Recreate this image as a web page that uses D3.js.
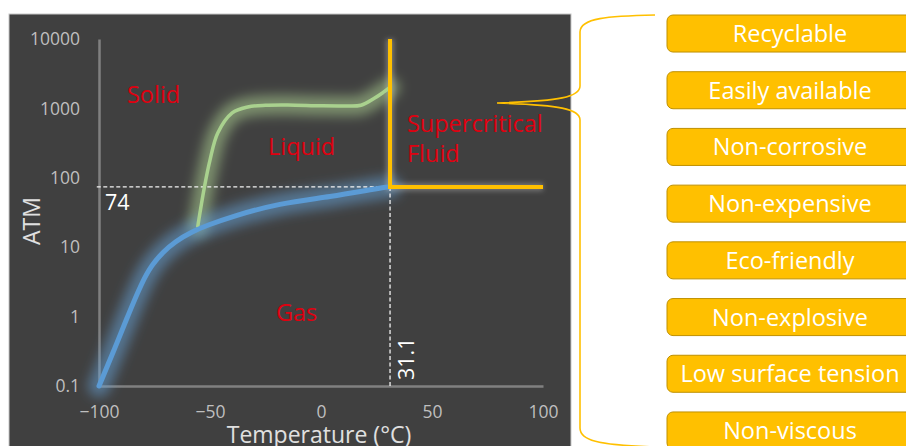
<!DOCTYPE html>
<html><head><meta charset="utf-8">
<script src="https://cdn.jsdelivr.net/npm/d3@7"></script>
<style>body{margin:0;background:#fff;overflow:hidden} svg{display:block;font-family:"Open Sans",sans-serif;}</style>
</head><body><svg id="c" width="906" height="446"></svg>
<script>
// ---- data ----
const xTicks = [-100, -50, 0, 50, 100];
const yTicks = [0.1, 1, 10, 100, 1000, 10000];
const yTickLabels = ["0.1", "1", "10", "100", "1000", "10000"];
// vapour pressure curve (T °C, P atm)
const vaporT = [-100, -92.8, -86.9, -80.6, -76.3, -71, -65.8, -58.2, -50.8, -41, -18.5, 4, 26.6, 31.1];
const vaporP = [0.1, 0.353, 1.05, 3.15, 5.54, 8.61, 12.0, 16.7, 20.9, 27.2, 43.3, 52.9, 71.3, 74];
// melting curve
const meltT = [-55.5, -52.5, -50, -46.5, -40, -33, -25, -15, 0, 10, 18, 24, 28, 31];
const meltP = [20, 74, 180, 442, 860, 1047, 1110, 1120, 1090, 1085, 1110, 1400, 1700, 2000];
const critical = {t: 31.1, p: 74};
const regionText = ["Solid", "Liquid", "Supercritical", "Fluid", "Gas"];
const regionT = [-87.4, -23.9, 38.7, 38.7, -20.3];
const regionP = [1197, 213, 457, 170, 0.865];
const properties = ["Recyclable", "Easily available", "Non-corrosive", "Non-expensive",
  "Eco-friendly", "Non-explosive", "Low surface tension", "Non-viscous"];

const svg = d3.select("#c");
const defs = svg.append("defs");
defs.append("filter").attr("id","glow").attr("x","-50%").attr("y","-50%").attr("width","200%").attr("height","200%")
  .append("feGaussianBlur").attr("stdDeviation", 6);
defs.append("filter").attr("id","glow2").attr("x","-50%").attr("y","-50%").attr("width","200%").attr("height","200%")
  .append("feGaussianBlur").attr("stdDeviation", 2.5);

// panel
svg.append("rect").attr("x", 9).attr("y", 14).attr("width", 562).attr("height", 440)
  .attr("fill", "#404040").attr("stroke", "#c8c8c8").attr("stroke-width", 1);

const x = d3.scaleLinear().domain([-100, 100]).range([99, 543]);
const y = d3.scaleLog().domain([0.1, 10000]).range([386, 39]);

// axes
const gx = svg.append("g").attr("transform", `translate(0,${y(0.1)})`)
  .call(d3.axisBottom(x).tickValues(xTicks).tickSize(0).tickPadding(20).tickFormat(d3.format("d")));
const gy = svg.append("g").attr("transform", `translate(${x(-100)},0)`)
  .call(d3.axisLeft(y).tickValues(yTicks).tickSize(0).tickPadding(19).tickFormat((d, i) => yTickLabels[i]));
[gx, gy].forEach(g => {
  g.select(".domain").attr("stroke", "#808080").attr("stroke-width", 2.5);
  g.selectAll("text").attr("fill", "#bfbfbf").attr("font-size", 17.5).attr("font-family", "Open Sans");
});

svg.append("text").attr("x", 319).attr("y", 443).attr("text-anchor", "middle")
  .attr("fill", "#e0e0e0").attr("font-size", 23).text("Temperature (°C)");
svg.append("text").attr("transform", "translate(40,221) rotate(-90)").attr("text-anchor", "middle")
  .attr("fill", "#e0e0e0").attr("font-size", 23).text("ATM");

const vapor = vaporT.map((t, i) => [t, vaporP[i]]);
const melt = meltT.map((t, i) => [t, meltP[i]]);
const vline = d3.line().x(d => x(d[0])).y(d => y(d[1])).curve(d3.curveBasis);
const line = d3.line().x(d => x(d[0])).y(d => y(d[1])).curve(d3.curveCatmullRom.alpha(0.5));
const yellow = [[critical.t, 10000], [critical.t, critical.p], [100, critical.p]];
const straight = d3.line().x(d => x(d[0])).y(d => y(d[1]));

// glows
svg.append("path").attr("d", line(melt)).attr("fill", "none").attr("stroke", "#b5dc98")
  .attr("stroke-width", 20).attr("stroke-opacity", 0.5).attr("stroke-linecap", "round").attr("filter", "url(#glow)");
svg.append("path").attr("d", vline(vapor)).attr("fill", "none").attr("stroke", "#6aa8e0")
  .attr("stroke-width", 22).attr("stroke-opacity", 0.5).attr("stroke-linecap", "round").attr("filter", "url(#glow)");
svg.append("path").attr("d", straight(yellow)).attr("fill", "none").attr("stroke", "#d8d8d8")
  .attr("stroke-width", 8).attr("stroke-opacity", 0.35).attr("filter", "url(#glow2)");

// dashed guides
svg.append("path").attr("d", straight([[-101, critical.p], [critical.t, critical.p]]))
  .attr("stroke", "#f2f2f2").attr("stroke-width", 1.3).attr("stroke-dasharray", "4,2.5").attr("fill", "none");
svg.append("path").attr("d", straight([[critical.t, critical.p], [critical.t, 0.1]]))
  .attr("stroke", "#f2f2f2").attr("stroke-width", 1.3).attr("stroke-dasharray", "4,2.5").attr("fill", "none");

// lines
svg.append("path").attr("d", line(melt)).attr("fill", "none").attr("stroke", "#a9d18e")
  .attr("stroke-width", 3.5).attr("stroke-linecap", "round");
svg.append("path").attr("d", vline(vapor)).attr("fill", "none").attr("stroke", "#5b9bd5")
  .attr("stroke-width", 5).attr("stroke-linecap", "round");
svg.append("path").attr("d", straight(yellow)).attr("fill", "none").attr("stroke", "#ffc000")
  .attr("stroke-width", 4);

// value labels
svg.append("text").attr("x", x(-100) + 6).attr("y", y(critical.p) + 23).attr("fill", "#ffffff")
  .attr("font-size", 21.5).text("74");
svg.append("text").attr("transform", `translate(${x(critical.t) + 24},${y(0.1) - 6}) rotate(-90)`)
  .attr("fill", "#ffffff").attr("font-size", 21.5).text("31.1");

// region labels
svg.selectAll(".region").data(regionText).enter().append("text")
  .attr("x", (d, i) => x(regionT[i])).attr("y", (d, i) => y(regionP[i]))
  .attr("fill", "#e00010").attr("font-size", 23.5).text(d => d);

// brace
svg.append("path")
  .attr("d", "M655,15 C608,16 580,18 580,32 L580,86 C580,97 560,101 497,103 C560,105 580,109 580,120 L580,428 C580,440 596,445 655,447")
  .attr("fill", "none").attr("stroke", "#ffc000").attr("stroke-width", 1.6);

// property boxes
const by = d3.scaleBand().domain(properties).range([15, 449]).paddingInner(0.347).paddingOuter(0);
const boxes = svg.selectAll(".box").data(properties).enter().append("g");
boxes.append("rect").attr("x", 667).attr("y", d => by(d)).attr("width", 246).attr("height", by.bandwidth())
  .attr("rx", 6).attr("fill", "#ffc000").attr("stroke", "#bf9000").attr("stroke-width", 1);
boxes.append("text").attr("x", 790).attr("y", d => by(d) + by.bandwidth() / 2).attr("dy", "0.36em")
  .attr("text-anchor", "middle").attr("fill", "#ffffff").attr("font-size", 23.5).text(d => d);
</script></body></html>
